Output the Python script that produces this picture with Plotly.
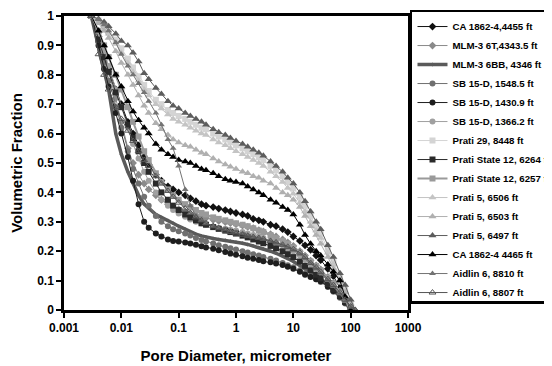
import plotly.graph_objects as go

# Pore diameter, micrometer (shared x values)
diameter = [0.003, 0.004, 0.005, 0.006, 0.008, 0.01, 0.013, 0.016, 0.02, 0.025,
            0.03, 0.04, 0.05, 0.065, 0.08, 0.1, 0.13, 0.16, 0.2, 0.25,
            0.3, 0.4, 0.5, 0.65, 0.8, 1, 1.3, 1.6, 2, 2.5,
            3, 4, 5, 6.5, 8, 10, 13, 16, 20, 25,
            30, 40, 50, 65, 80, 100, 120]

ca_4455 = [1.0, 0.93, 0.87, 0.82, 0.75, 0.70, 0.64, 0.60, 0.56, 0.52,
           0.495, 0.46, 0.44, 0.42, 0.41, 0.40, 0.39, 0.38, 0.37, 0.36,
           0.355, 0.35, 0.345, 0.34, 0.335, 0.33, 0.325, 0.32, 0.31, 0.305,
           0.30, 0.29, 0.285, 0.275, 0.265, 0.25, 0.235, 0.22, 0.205, 0.185,
           0.17, 0.14, 0.115, 0.075, 0.04, 0.0, None]
mlm_6t = [1.0, 0.93, 0.87, 0.81, 0.72, 0.64, 0.55, 0.50, 0.46, 0.43,
          0.41, 0.39, 0.375, 0.36, 0.35, 0.343, 0.335, 0.328, 0.322, 0.317,
          0.313, 0.307, 0.303, 0.299, 0.296, 0.292, 0.287, 0.283, 0.278, 0.272,
          0.267, 0.258, 0.25, 0.24, 0.23, 0.218, 0.20, 0.185, 0.168, 0.152,
          0.138, 0.113, 0.092, 0.065, 0.038, 0.0, None]
mlm_6bb = [1.0, 0.90, 0.82, 0.75, 0.60, 0.53, 0.47, 0.43, 0.39, 0.36,
           0.345, 0.325, 0.315, 0.305, 0.295, 0.285, 0.275, 0.265, 0.258, 0.252,
           0.248, 0.243, 0.24, 0.237, 0.234, 0.231, 0.227, 0.223, 0.218, 0.213,
           0.208, 0.20, 0.193, 0.184, 0.175, 0.165, 0.152, 0.14, 0.127, 0.115,
           0.104, 0.085, 0.068, 0.047, 0.027, 0.0, None]
sb_1548 = [1.0, 0.91, 0.84, 0.78, 0.69, 0.62, 0.54, 0.48, 0.43, 0.385,
           0.355, 0.32, 0.30, 0.285, 0.275, 0.268, 0.26, 0.253, 0.245, 0.238,
           0.233, 0.226, 0.22, 0.215, 0.21, 0.206, 0.20, 0.196, 0.19, 0.185,
           0.18, 0.174, 0.168, 0.16, 0.152, 0.145, 0.135, 0.125, 0.115, 0.105,
           0.095, 0.078, 0.062, 0.042, 0.022, 0.0, None]
sb_1430 = [1.0, 0.90, 0.82, 0.76, 0.67, 0.60, 0.52, 0.44, 0.36, 0.30,
           0.28, 0.26, 0.25, 0.24, 0.235, 0.233, 0.23, 0.226, 0.222, 0.217,
           0.213, 0.208, 0.203, 0.197, 0.192, 0.188, 0.183, 0.178, 0.174, 0.17,
           0.166, 0.162, 0.158, 0.153, 0.147, 0.14, 0.13, 0.12, 0.112, 0.105,
           0.098, 0.08, 0.065, 0.045, 0.025, 0.0, None]
sb_1366 = [1.0, 0.94, 0.88, 0.83, 0.75, 0.69, 0.62, 0.565, 0.515, 0.47,
           0.44, 0.40, 0.375, 0.355, 0.34, 0.328, 0.317, 0.308, 0.30, 0.294,
           0.29, 0.284, 0.28, 0.276, 0.273, 0.27, 0.265, 0.26, 0.255, 0.25,
           0.245, 0.237, 0.23, 0.22, 0.21, 0.20, 0.185, 0.17, 0.155, 0.14,
           0.127, 0.104, 0.085, 0.06, 0.035, 0.0, None]
prati29 = [1.0, 0.985, 0.97, 0.95, 0.92, 0.89, 0.855, 0.825, 0.795, 0.765,
           0.745, 0.715, 0.70, 0.68, 0.67, 0.66, 0.65, 0.64, 0.63, 0.62,
           0.615, 0.60, 0.59, 0.58, 0.57, 0.56, 0.55, 0.54, 0.53, 0.52,
           0.51, 0.49, 0.475, 0.455, 0.435, 0.415, 0.385, 0.355, 0.32, 0.285,
           0.26, 0.205, 0.165, 0.11, 0.07, 0.02, None]
ps12_6264 = [1.0, 0.92, 0.86, 0.81, 0.74, 0.69, 0.63, 0.585, 0.54, 0.50,
             0.47, 0.43, 0.40, 0.375, 0.355, 0.34, 0.325, 0.315, 0.305, 0.295,
             0.29, 0.282, 0.276, 0.27, 0.265, 0.26, 0.253, 0.247, 0.24, 0.233,
             0.227, 0.218, 0.21, 0.20, 0.19, 0.18, 0.165, 0.15, 0.135, 0.12,
             0.108, 0.088, 0.07, 0.048, 0.028, 0.0, None]
ps12_6257 = [1.0, 0.95, 0.90, 0.86, 0.80, 0.75, 0.69, 0.64, 0.59, 0.54,
             0.51, 0.465, 0.435, 0.41, 0.39, 0.375, 0.36, 0.35, 0.34, 0.33,
             0.325, 0.315, 0.31, 0.305, 0.30, 0.295, 0.29, 0.285, 0.278, 0.27,
             0.265, 0.255, 0.245, 0.235, 0.225, 0.212, 0.195, 0.18, 0.165, 0.15,
             0.135, 0.11, 0.09, 0.062, 0.035, 0.0, None]
p5_6506 = [1.0, 0.98, 0.96, 0.94, 0.905, 0.875, 0.84, 0.81, 0.78, 0.75,
           0.73, 0.70, 0.685, 0.665, 0.65, 0.64, 0.63, 0.62, 0.61, 0.60,
           0.595, 0.58, 0.57, 0.56, 0.55, 0.54, 0.53, 0.52, 0.51, 0.50,
           0.49, 0.47, 0.455, 0.435, 0.415, 0.395, 0.365, 0.335, 0.30, 0.27,
           0.245, 0.195, 0.155, 0.10, 0.065, 0.025, 0.0]
p5_6503 = [1.0, 0.975, 0.95, 0.925, 0.88, 0.84, 0.80, 0.765, 0.73, 0.695,
           0.67, 0.635, 0.615, 0.595, 0.58, 0.57, 0.56, 0.555, 0.545, 0.535,
           0.53, 0.515, 0.505, 0.495, 0.487, 0.48, 0.47, 0.465, 0.455, 0.45,
           0.44, 0.43, 0.415, 0.40, 0.39, 0.375, 0.35, 0.32, 0.285, 0.255,
           0.225, 0.18, 0.14, 0.095, 0.06, 0.02, None]
p5_6497 = [1.0, 0.99, 0.98, 0.965, 0.94, 0.915, 0.90, 0.875, 0.845, 0.805,
           0.785, 0.755, 0.735, 0.71, 0.695, 0.685, 0.67, 0.66, 0.65, 0.64,
           0.63, 0.615, 0.605, 0.595, 0.585, 0.575, 0.565, 0.555, 0.545, 0.535,
           0.525, 0.505, 0.49, 0.47, 0.45, 0.43, 0.40, 0.37, 0.335, 0.30,
           0.275, 0.22, 0.18, 0.125, 0.085, 0.035, 0.0]
ca_4465 = [1.0, 0.95, 0.90, 0.86, 0.80, 0.76, 0.71, 0.675, 0.645, 0.62,
           0.60, 0.565, 0.545, 0.53, 0.52, 0.51, 0.505, 0.50, 0.49, 0.48,
           0.475, 0.465, 0.455, 0.445, 0.44, 0.435, 0.43, 0.42, 0.41, 0.40,
           0.39, 0.375, 0.365, 0.35, 0.34, 0.325, 0.29, 0.255, 0.225, 0.20,
           0.185, 0.155, 0.13, 0.10, 0.045, 0.0, None]
aid_8810 = [1.0, 0.99, 0.97, 0.95, 0.91, 0.87, 0.83, 0.80, 0.77, 0.74,
            0.71, 0.67, 0.63, 0.58, 0.55, 0.49, 0.41, 0.355, 0.32, 0.305,
            0.295, 0.285, 0.28, 0.275, 0.27, 0.265, 0.26, 0.255, 0.25, 0.245,
            0.24, 0.235, 0.228, 0.22, 0.212, 0.203, 0.19, 0.175, 0.158, 0.14,
            0.125, 0.10, 0.08, 0.055, 0.03, 0.01, 0.0]
aid_8807 = [1.0, 0.87, 0.80, 0.75, 0.69, 0.65, 0.61, 0.575, 0.54, 0.51,
            0.49, 0.455, 0.43, 0.405, 0.385, 0.365, 0.345, 0.33, 0.315, 0.305,
            0.295, 0.285, 0.278, 0.27, 0.265, 0.26, 0.256, 0.252, 0.248, 0.245,
            0.242, 0.235, 0.23, 0.222, 0.215, 0.207, 0.195, 0.18, 0.16, 0.145,
            0.13, 0.105, 0.085, 0.06, 0.035, 0.012, 0.0]

series_names = ["CA 1862-4,4455 ft", "MLM-3 6T,4343.5 ft", "MLM-3 6BB, 4346 ft",
                "SB 15-D, 1548.5 ft", "SB 15-D, 1430.9 ft", "SB 15-D, 1366.2 ft",
                "Prati 29, 8448 ft", "Prati State 12, 6264 ft", "Prati State 12, 6257 ft",
                "Prati 5, 6506 ft", "Prati 5, 6503 ft", "Prati 5, 6497 ft",
                "CA 1862-4 4465 ft", "Aidlin 6, 8810 ft", "Aidlin 6, 8807 ft"]
series_values = [ca_4455, mlm_6t, mlm_6bb, sb_1548, sb_1430, sb_1366, prati29,
                 ps12_6264, ps12_6257, p5_6506, p5_6503, p5_6497, ca_4465,
                 aid_8810, aid_8807]
x_tick_values = [0.001, 0.01, 0.1, 1, 10, 100, 1000]
x_tick_labels = ["0.001", "0.01", "0.1", "1", "10", "100", "1000"]

# style: (color, symbol, marker size, line width)
styles = [
    ("#111111", "diamond", 6, 1),
    ("#8a8a8a", "diamond", 6, 1),
    ("#5a5a5a", "diamond", 3, 3.5),
    ("#707070", "circle", 6, 1),
    ("#1e1e1e", "circle", 6, 1),
    ("#a0a0a0", "circle", 6, 1),
    ("#d4d4d4", "square", 6, 1),
    ("#2a2a2a", "square", 6, 1),
    ("#9a9a9a", "square", 6, 2),
    ("#c4c4c4", "triangle-up", 7, 1),
    ("#b0b0b0", "triangle-up", 7, 1),
    ("#5c5c5c", "triangle-up", 7, 1),
    ("#000000", "triangle-up", 7, 1),
    ("#737373", "triangle-up", 6, 1),
    ("#555555", "triangle-up-open", 6, 1),
]

fig = go.Figure()
for name, vals, (col, sym, ms, lw) in zip(series_names, series_values, styles):
    fig.add_trace(go.Scatter(
        x=diameter, y=vals, name=name, mode="lines+markers",
        line=dict(color=col, width=lw),
        marker=dict(symbol=sym, size=ms, color=col,
                    line=dict(width=1 if "open" in sym else 0, color=col)),
    ))

FONT = "Liberation Sans, Arial, sans-serif"
fig.update_layout(
    width=544, height=358,
    paper_bgcolor="white", plot_bgcolor="white",
    margin=dict(l=56, r=144, t=8, b=56, autoexpand=False),
    font=dict(family=FONT, color="black", size=12),
    showlegend=True,
    legend=dict(
        x=1.0058, y=0.522, xanchor="left", yanchor="middle",
        bordercolor="black", borderwidth=2.5, bgcolor="white",
        font=dict(family=FONT, size=9.7, weight="bold", color="black"),
        itemwidth=30,
    ),
    xaxis=dict(
        type="log", range=[-3, 3],
        tickvals=x_tick_values, ticktext=x_tick_labels,
        ticks="outside", ticklen=5, tickwidth=2, tickcolor="black",
        showline=True, linewidth=2.5, linecolor="black", mirror=True,
        showgrid=False, zeroline=False, ticklabeloverflow="allow",
        tickfont=dict(family=FONT, size=12, weight="bold"),
        title=dict(text="Pore Diameter, micrometer", standoff=17,
                   font=dict(family=FONT, size=15, weight="bold")),
    ),
    yaxis=dict(
        range=[0, 1], dtick=0.1, tick0=0,
        ticks="outside", ticklen=5, tickwidth=2, tickcolor="black",
        showline=True, linewidth=2.5, linecolor="black", mirror=True,
        showgrid=False, zeroline=False, ticklabeloverflow="allow",
        tickfont=dict(family=FONT, size=12, weight="bold"),
        title=dict(text="Volumetric Fraction", standoff=16,
                   font=dict(family=FONT, size=15, weight="bold")),
    ),
)

fig.write_html("out.html")
